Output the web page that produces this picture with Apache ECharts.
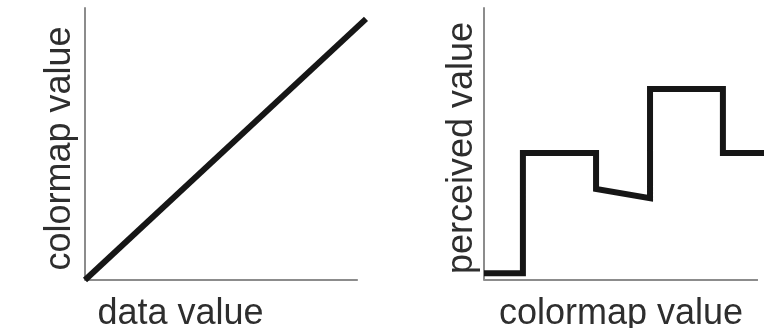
<!DOCTYPE html>
<html>
<head>
<meta charset="utf-8">
<script src="https://cdn.jsdelivr.net/npm/echarts@6/dist/echarts.min.js"></script>
<style>
  html, body { margin: 0; padding: 0; background: #fff; }
  #main { width: 764px; height: 328px; }
</style>
</head>
<body>
<div id="main"></div>
<script>
// left panel: linear mapping data -> colormap
const linearX = [0, 103];
const linearY = [0, 96];

// right panel: perceived value along the colormap (stepped)
const stepX = [0, 14.2, 14.2, 40.9, 40.9, 60.6, 60.6, 87.2, 87.2, 102.2];
const stepY = [2.5, 2.5, 46.7, 46.7, 33.5, 30.1, 70.2, 70.2, 46.7, 46.7];

// x axis baselines stop a bit before the curves do
const baseX = [0, 100];
const baseY = [0, 0];

const axisNames = {
  leftX: "data value",
  leftY: "colormap value",
  rightX: "colormap value",
  rightY: "perceived value",
};

const toPairs = (xs, ys) => xs.map((x, i) => [x, ys[i]]);

const axisGray = "#8c8c8c";
const ink = "#161616";
const nameStyle = (padding) => ({
  fontSize: 36,
  fontFamily: "Liberation Sans",
  color: "#2e2e2e",
  padding: padding,
});

const baseAxis = {
  type: "value",
  min: 0,
  axisLine: { show: true, lineStyle: { color: axisGray, width: 2 } },
  axisTick: { show: false },
  axisLabel: { show: false },
  splitLine: { show: false },
  nameLocation: "middle",
};

const chart = echarts.init(document.getElementById("main"));
chart.setOption({
  animation: false,
  grid: [
    { left: 85, right: 398, top: 8, bottom: 48, outerBoundsMode: "none", containLabel: false },
    { left: 484, right: 0, top: 8, bottom: 48, outerBoundsMode: "none", containLabel: false },
  ],
  xAxis: [
    { ...baseAxis, gridIndex: 0, max: 103, axisLine: { show: false },
      name: axisNames.leftX, nameGap: 16, nameTextStyle: nameStyle([0, 90, 0, 0]) },
    { ...baseAxis, gridIndex: 1, max: 102.2, axisLine: { show: false },
      name: axisNames.rightX, nameGap: 16, nameTextStyle: nameStyle([0, 6, 0, 0]) },
  ],
  yAxis: [
    { ...baseAxis, gridIndex: 0, max: 100, name: axisNames.leftY, nameGap: 7,
      nameTextStyle: nameStyle([0, 9, 0, 0]) },
    { ...baseAxis, gridIndex: 1, max: 100, name: axisNames.rightY, nameGap: 4,
      nameTextStyle: nameStyle([0, 8, 0, 0]) },
  ],
  series: [
    {
      type: "line",
      xAxisIndex: 0,
      yAxisIndex: 0,
      data: toPairs(baseX, baseY),
      symbol: "none",
      silent: true,
      lineStyle: { color: axisGray, width: 2 },
    },
    {
      type: "line",
      xAxisIndex: 1,
      yAxisIndex: 1,
      data: toPairs(baseX, baseY),
      symbol: "none",
      silent: true,
      lineStyle: { color: axisGray, width: 2 },
    },
    {
      type: "line",
      xAxisIndex: 0,
      yAxisIndex: 0,
      data: toPairs(linearX, linearY),
      symbol: "none",
      clip: false,
      lineStyle: { color: ink, width: 6, cap: "butt" },
    },
    {
      type: "line",
      xAxisIndex: 1,
      yAxisIndex: 1,
      data: toPairs(stepX, stepY),
      symbol: "none",
      clip: false,
      lineStyle: { color: ink, width: 6, cap: "butt", join: "miter" },
    },
  ],
});
</script>
</body>
</html>
